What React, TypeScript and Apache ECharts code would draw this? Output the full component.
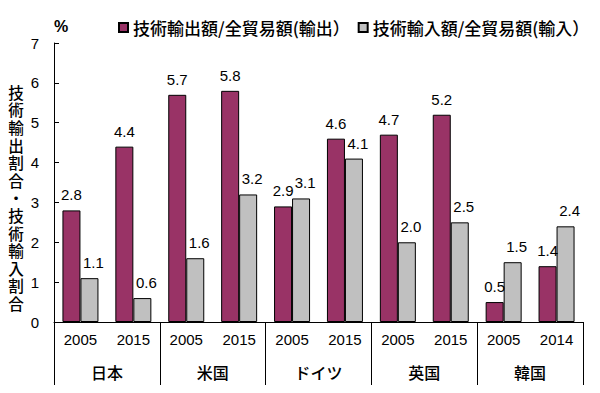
import React, { useEffect, useRef } from "react";
import * as echarts from "echarts";

const years = ["2005", "2015", "2005", "2015", "2005", "2015", "2005", "2015", "2005", "2014"];
const countries = ["日本", "米国", "ドイツ", "英国", "韓国"];
const exportShare = [2.8, 4.4, 5.7, 5.8, 2.9, 4.6, 4.7, 5.2, 0.5, 1.4];
const importShare = [1.1, 0.6, 1.6, 3.2, 3.1, 4.1, 2.0, 2.5, 1.5, 2.4];
const seriesNames = ["技術輸出額/全貿易額(輸出）", "技術輸入額/全貿易額(輸入）"];
const yAxisTitle = "技術輸出割合・技術輸入割合";
const unitLabel = "%";

const FONT = "'Liberation Sans', 'Noto Sans CJK JP', sans-serif";
const CJK = "'Noto Sans CJK JP', 'Liberation Sans', sans-serif";

export default function App() {
  const ref = useRef<HTMLDivElement>(null);
  useEffect(() => {
    if (!ref.current) return;
    const chart = echarts.init(ref.current, null, { renderer: "svg" });
    const labelCommon = {
      show: true,
      position: "top" as const,
      distance: 8,
      fontSize: 15,
      color: "#000",
      fontFamily: FONT,
      formatter: (p: any) => Number(p.value).toFixed(1),
    };
    const titleChars = yAxisTitle.split("").map((ch, i) => ({
      type: "text",
      x: 16,
      y: 84 + i * 17.6,
      scaleX: 1.3,
      scaleY: 1.3,
      style: {
        text: ch,
        fontSize: 12,
        fill: "#000",
        fontFamily: CJK,
        align: "center",
        verticalAlign: "top",
        fontWeight: 500,
      },
    }));
    chart.setOption({
      animation: false,
      textStyle: { fontFamily: FONT, color: "#000" },
      grid: { left: 54, right: 17, top: 43, bottom: 71, containLabel: false },
      legend: {
        left: 113,
        top: 14,
        icon: "rect",
        itemWidth: 9,
        itemHeight: 9,
        itemGap: 8,
        textStyle: { fontSize: 17, fontFamily: CJK, color: "#000", fontWeight: 500 },
        data: seriesNames,
      },
      xAxis: [
        {
          type: "category",
          data: years,
          position: "bottom",
          axisLine: { show: true, lineStyle: { color: "#000", width: 1 } },
          axisTick: { show: false },
          axisLabel: { fontSize: 15, color: "#000", margin: 10, fontFamily: FONT, interval: 0 },
        },
        {
          type: "category",
          data: countries,
          position: "bottom",
          axisLine: { show: false },
          axisTick: { show: true, length: 63, lineStyle: { color: "#000", width: 1 } },
          axisLabel: { fontSize: 16, color: "#000", margin: 42, fontFamily: CJK, interval: 0, fontWeight: 500 },
        },
      ],
      yAxis: {
        type: "value",
        min: 0,
        max: 7,
        interval: 1,
        splitLine: { show: false },
        axisLine: { show: true, lineStyle: { color: "#000", width: 1 } },
        axisTick: { show: true, inside: true, length: 5, lineStyle: { color: "#000" } },
        axisLabel: { fontSize: 15, color: "#000", margin: 15, fontFamily: FONT },
      },
      graphic: [
        {
          type: "text",
          left: 54,
          top: 18,
          style: { text: unitLabel, fontSize: 16, fill: "#000", fontFamily: FONT, fontWeight: "bold" },
        },
        ...titleChars,
      ],
      series: [
        {
          name: seriesNames[0],
          type: "bar",
          xAxisIndex: 0,
          data: exportShare,
          barWidth: 18,
          barGap: "0%",
          itemStyle: { color: "#993366", borderColor: "#000", borderWidth: 1 },
          label: { ...labelCommon },
        },
        {
          name: seriesNames[1],
          type: "bar",
          xAxisIndex: 0,
          data: importShare,
          barWidth: 18,
          barGap: "0%",
          itemStyle: { color: "#c0c0c0", borderColor: "#000", borderWidth: 1 },
          label: { ...labelCommon, offset: [4, 0] },
        },
      ],
    });
    return () => chart.dispose();
  }, []);
  return (
    <div
      ref={ref}
      style={{ position: "absolute", left: 0, top: 0, width: 600, height: 393 }}
    />
  );
}
